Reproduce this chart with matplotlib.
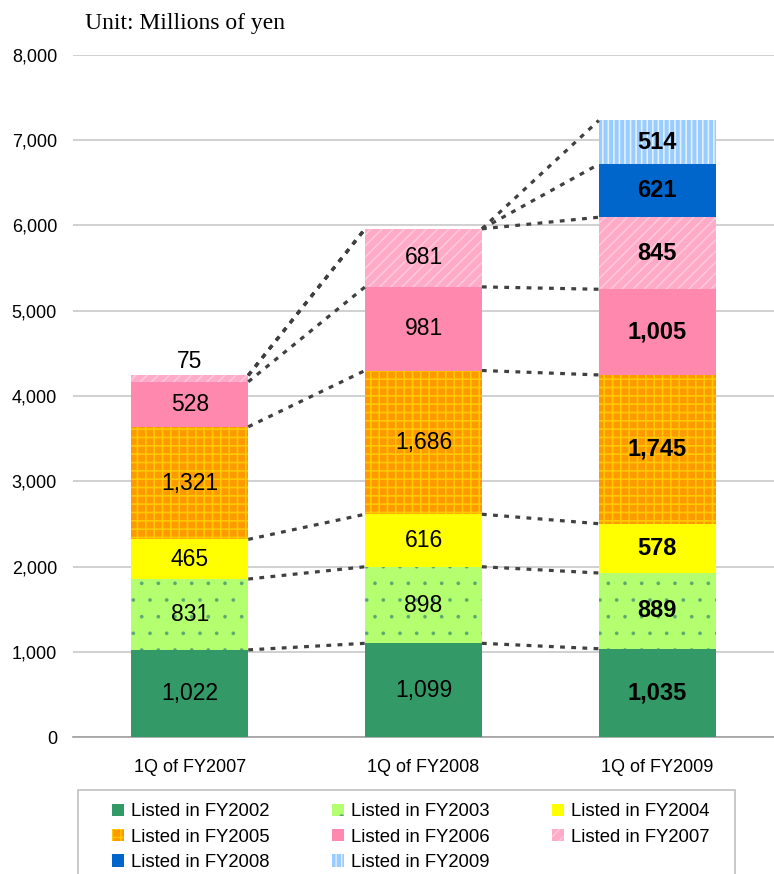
import numpy as np
import matplotlib
matplotlib.use('Agg')
import matplotlib.pyplot as plt
from matplotlib.patches import Rectangle
from matplotlib.ticker import FuncFormatter

# DATA
quarters = ['1Q of FY2007', '1Q of FY2008', '1Q of FY2009']
series_names = ['Listed in FY2002', 'Listed in FY2003', 'Listed in FY2004',
                'Listed in FY2005', 'Listed in FY2006', 'Listed in FY2007',
                'Listed in FY2008', 'Listed in FY2009']

fy2002 = [1022, 1099, 1035]
fy2003 = [831, 898, 889]
fy2004 = [465, 616, 578]
fy2005 = [1321, 1686, 1745]
fy2006 = [528, 981, 1005]
fy2007 = [75, 681, 845]
fy2008 = [0, 0, 621]
fy2009 = [0, 0, 514]

values = [fy2002, fy2003, fy2004, fy2005, fy2006, fy2007, fy2008, fy2009]

# colours / hatches per series
face_cols = ['#339966', '#B3FF70', '#FFFF00', '#FF9900',
             '#FF88AE', '#FFAAC6', '#0066CC', '#99CCFF']
hatch_cols = ['#339966', '#5AA870', '#FFFF00', '#FFC800',
              '#FF88AE', '#FFC8DA', '#0066CC', '#E2F0FF']
hatches = [None, '.', None, '++', None, '///', None, '|||']
hatch_lw = [1.2, 0.2, 1.2, 1.2, 1.2, 1.2, 1.2, 1.2]

plt.rcParams['font.family'] = ['Liberation Sans', 'DejaVu Sans']

fig = plt.figure(figsize=(7.74, 8.74), dpi=100)
ax = fig.add_axes([73/774, 1 - 737/874, 1 - 73/774, (737 - 55)/874])

x = np.arange(len(quarters))
width = 0.5
bottoms = np.zeros(len(quarters))
tops = []
handles = []

for i in range(len(values)):
    vals = np.array(values[i], dtype=float)
    with plt.rc_context({'hatch.linewidth': hatch_lw[i]}):
        b = ax.bar(x, vals, width, bottom=bottoms, color=face_cols[i],
                   edgecolor=hatch_cols[i], hatch=hatches[i], linewidth=0,
                   label=series_names[i], zorder=3)
    for p in b.patches:
        if hasattr(p, 'set_hatch_linewidth'):
            p.set_hatch_linewidth(hatch_lw[i])
    handles.append(b)

    # labels in the segments
    for j in range(len(quarters)):
        v = vals[j]
        if v <= 0:
            continue
        weight = 'bold' if j == 2 else 'normal'
        size = 17 if j == 2 else 16.5
        if v < 200:
            ax.annotate(f'{int(v):,}', (x[j], bottoms[j] + v),
                        xytext=(0, 2), textcoords='offset points',
                        ha='center', va='bottom', fontsize=size,
                        fontweight=weight, zorder=5)
        else:
            ax.text(x[j], bottoms[j] + v / 2, f'{int(v):,}',
                    ha='center', va='center', fontsize=size,
                    fontweight=weight, zorder=5)

    bottoms = bottoms + vals
    tops.append(bottoms.copy())

# series lines between the bars
for t in tops:
    for j in range(len(quarters) - 1):
        ax.plot([x[j] + width/2, x[j+1] - width/2], [t[j], t[j+1]],
                color='#404040', linewidth=2.3, linestyle=(0, (1.5, 2.0)),
                zorder=4, solid_capstyle='butt')

# axes styling
ax.set_xlim(-0.5, 2.5)
ax.set_ylim(0, 8000)
ax.set_yticks(np.arange(0, 8001, 1000))
ax.yaxis.set_major_formatter(FuncFormatter(lambda v, p: f'{int(v):,}'))
ax.set_xticks(x)
ax.set_xticklabels(quarters)
ax.tick_params(axis='y', length=0, pad=11.5, labelsize=13)
ax.tick_params(axis='x', length=0, pad=16, labelsize=13)
ax.grid(axis='y', color='#C8C8C8', linewidth=1.2, zorder=0)
ax.set_axisbelow(True)
for s in ['top', 'right', 'left']:
    ax.spines[s].set_visible(False)
ax.spines['bottom'].set_color('#A0A0A0')
ax.spines['bottom'].set_linewidth(1.2)

fig.text(85/774, 1 - 24/874, 'Unit: Millions of yen', family='Liberation Serif',
         fontsize=17, ha='left', va='center')

# legend box (row-wise order, matplotlib fills columns first)
fig.patches.append(Rectangle((78/774, -0.05), (735 - 78)/774, 0.05 + 1 - 790/874,
                             transform=fig.transFigure, facecolor='white',
                             edgecolor='#C0C0C0', linewidth=1.2))
order = [0, 3, 6, 1, 4, 7, 2, 5]
fig.legend(handles=[handles[k] for k in order], loc='upper left',
           bbox_to_anchor=(103/774, 1 - 794/874),
           ncol=3, frameon=False, fontsize=13.3, borderpad=0,
           handlelength=0.65, handleheight=0.65, handletextpad=0.35,
           columnspacing=3.4, labelspacing=0.45)

fig.savefig('out.png', dpi=100)
